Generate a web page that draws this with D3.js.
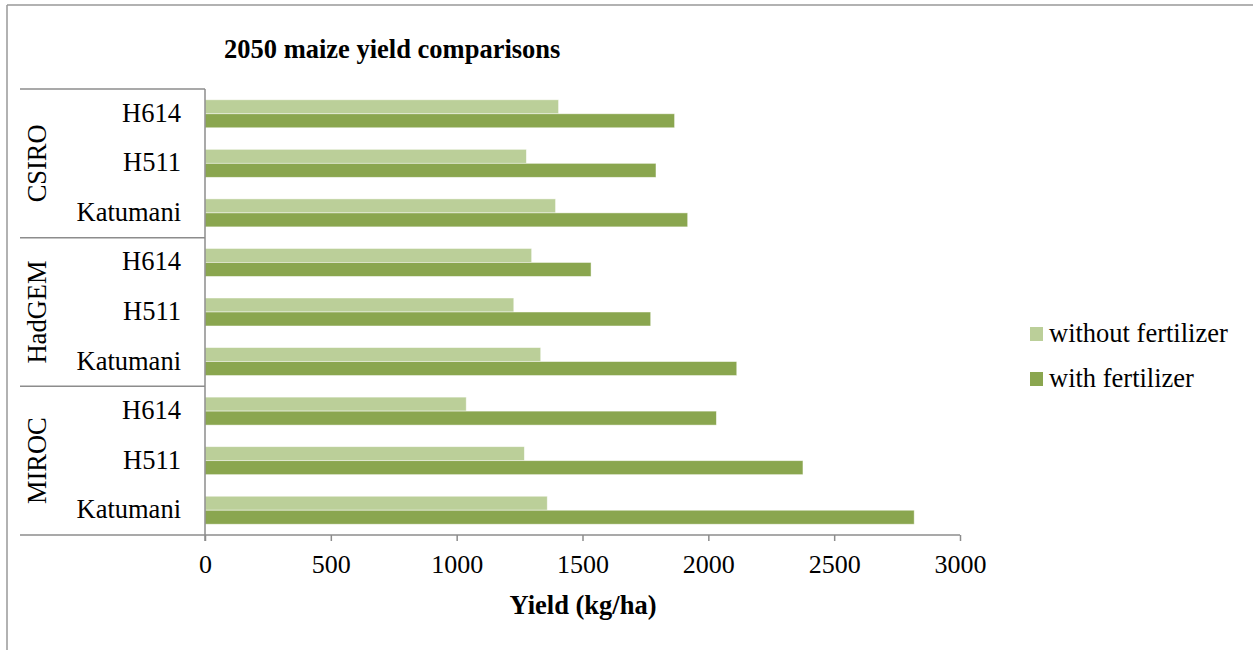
<!DOCTYPE html>
<html>
<head>
<meta charset="utf-8">
<script src="https://cdn.jsdelivr.net/npm/d3@7/dist/d3.min.js"></script>
<style>
  html, body { margin: 0; padding: 0; background: #fff; }
  svg text { font-family: "Liberation Serif", "Times New Roman", serif; fill: #000; }
</style>
</head>
<body>
<svg id="chart" width="1253" height="650"></svg>
<script>
// Climate models (outer category level) and maize varieties (inner level)
const models = ["CSIRO", "HadGEM", "MIROC"];
const varieties = ["H614", "H511", "Katumani"];
// Yield in kg/ha, in row order: CSIRO H614..Katumani, HadGEM ..., MIROC ...
const withoutFertilizer = [1405, 1277, 1393, 1298, 1227, 1334, 1038, 1269, 1360];
const withFertilizer    = [1866, 1792, 1918, 1534, 1771, 2113, 2032, 2376, 2818];
const seriesNames = ["without fertilizer", "with fertilizer"];
const xTicks = [0, 500, 1000, 1500, 2000, 2500, 3000];

const colors = { "without fertilizer": "#bbcf99", "with fertilizer": "#8aa64f" };
const axisColor = "#8c8c8c";

const rows = [];
models.forEach((m, mi) => varieties.forEach((v, vi) => {
  const i = mi * varieties.length + vi;
  rows.push({ id: m + "|" + v, model: m, variety: v,
              "without fertilizer": withoutFertilizer[i], "with fertilizer": withFertilizer[i] });
}));

const svg = d3.select("#chart");
const plot = { left: 205, right: 960, top: 89, bottom: 535 };

// Outer frame (top and left edges)
svg.append("line").attr("x1", 7).attr("x2", 1253).attr("y1", 5).attr("y2", 5)
  .attr("stroke", "#999").attr("stroke-width", 1.5);
svg.append("line").attr("x1", 7).attr("x2", 7).attr("y1", 5).attr("y2", 650)
  .attr("stroke", "#999").attr("stroke-width", 1.5);

const x = d3.scaleLinear().domain([0, 3000]).range([plot.left, plot.right]);
const y = d3.scaleBand().domain(rows.map(d => d.id)).range([plot.top, plot.bottom])
  .paddingInner(0.435).paddingOuter(0.2175);
const ySub = d3.scaleBand().domain(seriesNames).range([0, y.bandwidth()]);

// Bars
const g = svg.append("g");
rows.forEach(r => {
  seriesNames.forEach(s => {
    g.append("rect")
      .attr("x", x(0))
      .attr("y", y(r.id) + ySub(s))
      .attr("width", x(r[s]) - x(0))
      .attr("height", ySub.bandwidth())
      .attr("fill", colors[s])
      .attr("stroke", "rgba(255,255,255,0.6)")
      .attr("stroke-width", 0.8);
  });
});

// X axis
const xAxis = d3.axisBottom(x).tickValues(xTicks).tickSize(6).tickPadding(14)
  .tickFormat(d3.format("d"));
const xg = svg.append("g").attr("transform", `translate(0,${plot.bottom})`).call(xAxis);
xg.select(".domain").remove();
xg.selectAll(".tick line").attr("stroke", axisColor).attr("stroke-width", 1.5);
xg.selectAll(".tick text").attr("font-size", 26).attr("font-family", "Liberation Serif").attr("fill", "#000");
svg.append("line").attr("x1", 20).attr("x2", plot.right).attr("y1", plot.bottom).attr("y2", plot.bottom)
  .attr("stroke", axisColor).attr("stroke-width", 1.5);

// Y axis line
svg.append("line").attr("x1", plot.left).attr("x2", plot.left)
  .attr("y1", plot.top).attr("y2", plot.bottom + 6)
  .attr("stroke", axisColor).attr("stroke-width", 1.5);

// Group divider lines of the two-level category axis
const step = y.step();
models.forEach((m, mi) => {
  const ids = rows.filter(r => r.model === m).map(r => r.id);
  const y0 = y(ids[0]) - y.paddingOuter() * step;
  const y1 = y0 + ids.length * step;
  svg.append("line").attr("x1", 20).attr("x2", plot.left).attr("y1", y0).attr("y2", y0)
    .attr("stroke", axisColor).attr("stroke-width", 1.5);
  svg.append("text")
    .attr("transform", `translate(46,${(y0 + y1) / 2}) rotate(-90)`)
    .attr("text-anchor", "middle")
    .attr("font-size", 26.5)
    .text(m);
});

// Variety labels
rows.forEach(r => {
  svg.append("text")
    .attr("x", 181)
    .attr("y", y(r.id) + y.bandwidth() / 2 + 8)
    .attr("text-anchor", "end")
    .attr("font-size", 26.5)
    .text(r.variety);
});

// Title
svg.append("text").attr("x", 224).attr("y", 58)
  .attr("font-size", 26.5).attr("font-weight", "bold")
  .text("2050 maize yield comparisons");

// Axis title
svg.append("text").attr("x", 583).attr("y", 614)
  .attr("text-anchor", "middle")
  .attr("font-size", 26.5).attr("font-weight", "bold")
  .text("Yield (kg/ha)");

// Legend
const legend = svg.append("g");
seriesNames.forEach((s, i) => {
  const ly = 327 + i * 45;
  legend.append("rect").attr("x", 1030).attr("y", ly).attr("width", 13).attr("height", 14)
    .attr("fill", colors[s]);
  legend.append("text").attr("x", 1049).attr("y", ly + 15)
    .attr("font-size", 26.5).text(s);
});
</script>
</body>
</html>
